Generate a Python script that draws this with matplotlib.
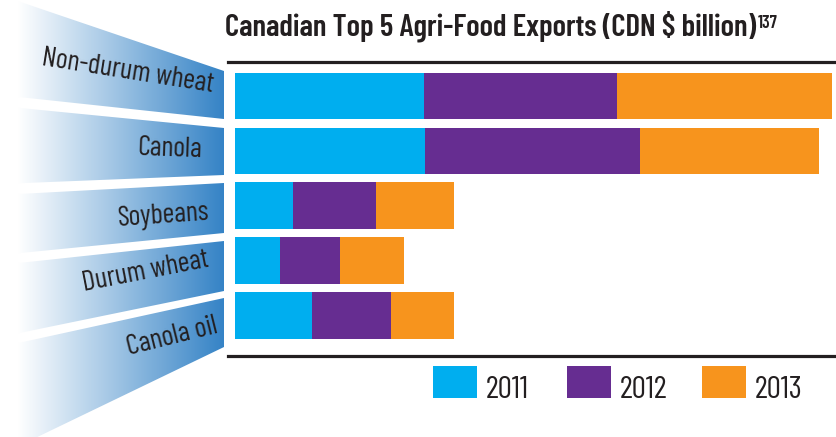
import numpy as np
import matplotlib
matplotlib.use("Agg")
import matplotlib.pyplot as plt
from matplotlib.patches import Polygon, Rectangle
from matplotlib.colors import to_rgb

plt.rcParams['font.family'] = ['Barlow Condensed', 'DejaVu Sans']

# Exportações (CDN $ bilhões)
produtos = ["Non-durum wheat", "Canola", "Soybeans", "Durum wheat", "Canola oil"]
anos = ["2011", "2012", "2013"]
v2011 = [4.40, 4.42, 1.35, 1.05, 1.79]
v2012 = [4.49, 5.01, 1.93, 1.40, 1.84]
v2013 = [5.00, 4.14, 1.81, 1.47, 1.47]
cores = ["#00aeef", "#662d91", "#f7941d"]

texto = "#231f20"
azul = np.array(to_rgb("#3583c6"))

W, H = 836, 437
fig = plt.figure(figsize=(W / 100, H / 100), dpi=100)
renderer = fig.canvas.get_renderer()


def ajustar(t, largura):
    # ajusta o tamanho da fonte para o texto ocupar a largura desejada (px)
    larg = t.get_window_extent(renderer).width
    t.set_fontsize(t.get_fontsize() * largura / larg)
    return t.get_fontsize()


# fundo em coordenadas de pixel (faixas laterais, legenda, título)
bg = fig.add_axes([0, 0, 1, 1])
bg.set_xlim(0, W)
bg.set_ylim(H, 0)
bg.axis("off")

# faixas em degradê à esquerda: (y topo esq, y base esq, y topo dir, y base dir)
faixas = [(-5, 95, 71, 119), (106, 184, 128, 175), (195, 255, 183, 233),
          (265, 337, 241, 291), (347, 455, 298, 347)]
xr = 224
t = np.clip((np.linspace(0, xr, 300) - 18) / (xr - 18), 0, 1)
grad = (1 - t)[:, None] * np.ones(3) + t[:, None] * azul
grad = grad[None, :, :]
for (lt, lb, rt, rb) in faixas:
    poly = Polygon([(0, lt), (xr, rt), (xr, rb), (0, lb)], closed=True,
                   facecolor="none", edgecolor="none")
    bg.add_patch(poly)
    im = bg.imshow(grad, extent=(0, xr, max(lb, rb), min(lt, rt)),
                   aspect="auto", interpolation="bilinear")
    im.set_clip_path(poly)

# tamanho dos rótulos a partir da largura de "Canola"
teste = bg.text(0, 0, "Canola", fontsize=18)
tam_rot = ajustar(teste, 65)
teste.remove()

rotulos_pos = [(128, 72, -9), (170, 149, -2), (164, 216, 4), (146, 272, 11), (172, 337, 14)]
for nome, (x, y, r) in zip(produtos, rotulos_pos):
    bg.text(x, y, nome, fontsize=tam_rot, color=texto, ha="center", va="center",
            rotation=r, rotation_mode="anchor")

bg.set_xlim(0, W)
bg.set_ylim(H, 0)

# gráfico de barras empilhadas
ax = fig.add_axes([228 / W, (H - 355.7) / H, (W - 228) / W, (355.7 - 62) / H])
y = np.arange(len(produtos))
esq = np.zeros(len(produtos))
for vals, cor, ano in zip([v2011, v2012, v2013], cores, anos):
    ax.barh(y, vals, left=esq, height=0.85, color=cor, label=ano)
    esq = esq + np.array(vals)

escala = 43.0
ax.set_xlim(-7 / escala, (W - 235) / escala)
ax.set_ylim(4.73, -0.62)
ax.set_xticks([])
ax.set_yticks([])
for lado in ["left", "right"]:
    ax.spines[lado].set_visible(False)
for lado in ["top", "bottom"]:
    ax.spines[lado].set_color(texto)
    ax.spines[lado].set_linewidth(2.3)
ax.patch.set_alpha(0)

# legenda
teste = bg.text(0, 0, "2011", fontsize=18)
tam_leg = ajustar(teste, 43)
teste.remove()
leg_x = [433, 567, 702]
for x0, cor, ano in zip(leg_x, cores, anos):
    bg.add_patch(Rectangle((x0, 366), 44, 32, facecolor=cor, edgecolor="none"))
    bg.text(x0 + 53, 397.5, ano, fontsize=tam_leg, color=texto, ha="left", va="baseline")

# título
tit = bg.text(225, 35, "Canadian Top 5 Agri-Food Exports (CDN $ billion)",
              fontsize=19, fontweight="semibold", color=texto,
              ha="left", va="baseline")
ajustar(tit, 532)
bb = tit.get_window_extent(renderer)
bg.text(bb.x1 + 2, 28, "137", fontsize=13, fontweight="semibold",
        color=texto, ha="left", va="baseline")

fig.savefig("out.png", dpi=100)
